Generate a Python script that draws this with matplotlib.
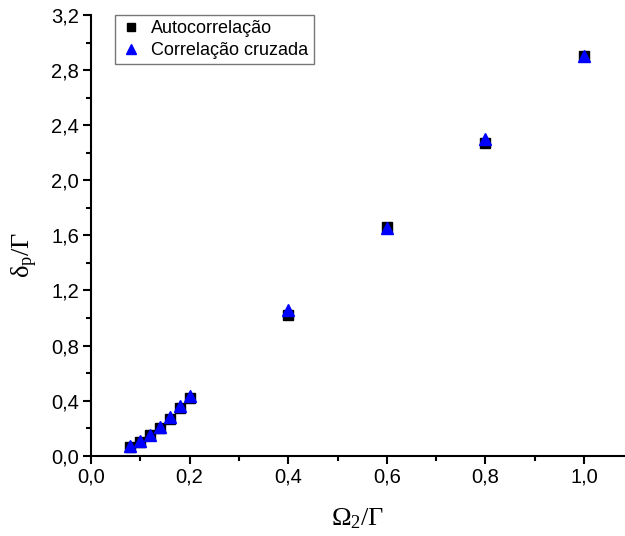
import matplotlib
matplotlib.use("Agg")
import matplotlib.pyplot as plt
from matplotlib.ticker import MultipleLocator, FuncFormatter

# Largura de pico normalizada em função de Omega_2/Gamma
omega2 = [0.08, 0.10, 0.12, 0.14, 0.16, 0.18, 0.20, 0.4, 0.6, 0.8, 1.0]
auto_corr = [0.06, 0.10, 0.15, 0.20, 0.27, 0.35, 0.42, 1.02, 1.66, 2.27, 2.90]
cross_corr = [0.07, 0.11, 0.15, 0.21, 0.28, 0.36, 0.43, 1.06, 1.65, 2.30, 2.90]

plt.rcParams['font.family'] = ['Liberation Sans', 'DejaVu Sans']
plt.rcParams['mathtext.fontset'] = 'custom'
plt.rcParams['mathtext.rm'] = 'Liberation Serif'
plt.rcParams['mathtext.it'] = 'Liberation Serif'

fig = plt.figure(figsize=(6.25, 5.36), dpi=100)
ax = fig.add_axes([0.1456, 0.1498, 0.8544, 0.8222])

ax.plot(omega2, auto_corr, 's', color='black', markersize=7, label='Autocorrelação')
ax.plot(omega2, cross_corr, '^', color='#0000ff', markersize=9, label='Correlação cruzada')

ax.set_xlim(0, 1.083)
ax.set_ylim(0, 3.2)

ax.xaxis.set_major_locator(MultipleLocator(0.2))
ax.xaxis.set_minor_locator(MultipleLocator(0.1))
ax.yaxis.set_major_locator(MultipleLocator(0.4))
ax.yaxis.set_minor_locator(MultipleLocator(0.2))

virgula = FuncFormatter(lambda v, pos: f"{v:.1f}".replace('.', ','))
ax.xaxis.set_major_formatter(virgula)
ax.yaxis.set_major_formatter(virgula)

for lado in ['top', 'right']:
    ax.spines[lado].set_visible(False)
for lado in ['left', 'bottom']:
    ax.spines[lado].set_linewidth(1.5)

ax.tick_params(which='major', direction='out', length=5.5, width=1.5, labelsize=14.5, pad=3)
ax.tick_params(which='minor', direction='out', length=3.5, width=1.5)

ax.set_xlabel(r'$\Omega_2/\Gamma$', fontsize=19)
ax.set_ylabel(r'$\delta_p/\Gamma$', fontsize=19)
ax.xaxis.set_label_coords(0.5, -0.115)
ax.yaxis.set_label_coords(-0.095, 0.455)

leg = ax.legend(loc='upper left', bbox_to_anchor=(0.045, 1.0), borderaxespad=0,
                fontsize=13, fancybox=False, handletextpad=0.5, borderpad=0.3,
                labelspacing=0.25, handlelength=1.2, frameon=True, markerscale=0.85)
leg.get_frame().set_edgecolor('#555555')
leg.get_frame().set_linewidth(1.0)

fig.savefig('out.png', dpi=100)
